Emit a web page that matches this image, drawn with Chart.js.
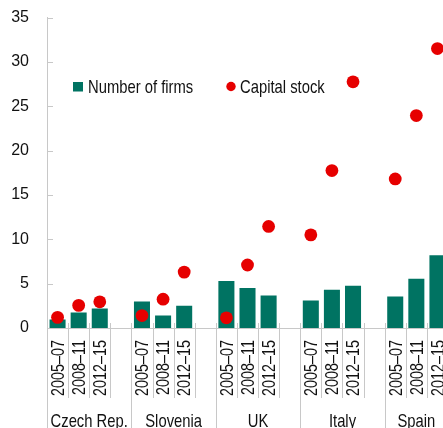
<!DOCTYPE html>
<html>
<head>
<meta charset="utf-8">
<script src="https://cdn.jsdelivr.net/npm/chart.js@4.4.0/dist/chart.umd.min.js"></script>
<style>
  html, body { margin: 0; padding: 0; background: #fff; overflow: hidden; }
  #wrap { position: relative; width: 448px; height: 428px; }
  #firms-chart { display: block; }
</style>
</head>
<body>
<div id="wrap"><canvas id="firms-chart" width="448" height="428"></canvas></div>
<script>
// ------------ DATA ------------

const countries = ['Czech Rep.', 'Slovenia', 'UK', 'Italy', 'Spain'];
const periods = ['2005–07', '2008–11', '2012–15'];

// one value per country and period, in the order of countries x periods
const numberOfFirms = [0.95, 1.75, 2.2,   3.0, 1.4, 2.5,   5.3, 4.5, 3.65,   3.1, 4.3, 4.75,   3.55, 5.55, 8.2];
const capitalStock  = [1.2, 2.55, 2.95,   1.4, 3.25, 6.3,   1.15, 7.1, 11.45,  10.5, 17.75, 27.75, 16.8, 23.95, 31.5];

const yTicks = [0, 5, 10, 15, 20, 25, 30, 35];

// Liberation Sans squeezed horizontally stands in for a narrow face
const FONT = "'Liberation Sans', Arial, sans-serif";
const NARROW = 0.8;
const TEAL = '#007362';
const RED = '#e60000';
const INK = '#111111';
const LINE_GREY = '#c8c8c8';

// ------------ BUILD SLOTS (3 periods per country, empty slot between countries) ------------

var labels = [];
var firmsData = [];
var capitalData = [];
var groupStarts = [];

countries.forEach(function(country, c) {
    groupStarts.push(labels.length);
    periods.forEach(function(p, i) {
        labels.push(p);
        firmsData.push(numberOfFirms[c * periods.length + i]);
        capitalData.push(capitalStock[c * periods.length + i]);
    });
    if (c < countries.length - 1) {
        labels.push('');
        firmsData.push(null);
        capitalData.push(null);
    }
});

// draws text squeezed along its own direction
function narrowText(ctx, text, x, y, size, align, angle) {
    ctx.save();
    ctx.translate(x, y);
    if (angle) ctx.rotate(angle);
    ctx.scale(NARROW, 1);
    ctx.font = size + 'px ' + FONT;
    ctx.textAlign = align;
    ctx.textBaseline = 'alphabetic';
    ctx.fillText(text, 0, 0);
    ctx.restore();
}

// ------------ PLUGINS ------------

// separators under the x axis, rotated period labels, inner y ticks, country names
const axisDecor = {
    id: 'axisDecor',
    afterDraw(chart) {
        const ctx = chart.ctx;
        const x = chart.scales.x;
        const y = chart.scales.y;
        const area = chart.chartArea;
        const half = (x.getPixelForValue(1) - x.getPixelForValue(0)) / 2;
        const H = chart.height;

        ctx.save();
        ctx.strokeStyle = LINE_GREY;
        ctx.lineWidth = 1;

        for (var i = 0; i < labels.length; i++) {
            var px = Math.round(x.getPixelForValue(i) - half) + 0.5;
            var isLong = groupStarts.indexOf(i) !== -1;
            ctx.beginPath();
            ctx.moveTo(px, area.bottom - 5);
            ctx.lineTo(px, isLong ? H : area.bottom + 70);
            ctx.stroke();
        }

        yTicks.forEach(function(v) {
            var py = Math.round(y.getPixelForValue(v)) + 0.5;
            ctx.beginPath();
            ctx.moveTo(area.left, py);
            ctx.lineTo(area.left + 6, py);
            ctx.stroke();
        });

        ctx.fillStyle = INK;

        // period labels, reading bottom to top, ending just under the axis
        labels.forEach(function(lab, i) {
            if (!lab) return;
            var cx = x.getPixelForValue(i) + 6.3;
            narrowText(ctx, lab, cx, area.bottom + 12, 18, 'right', -Math.PI / 2);
        });

        // country names centred between the long separators
        groupStarts.forEach(function(start, c) {
            var left = x.getPixelForValue(start) - half;
            var end = c < groupStarts.length - 1 ? groupStarts[c + 1] : labels.length;
            var right = x.getPixelForValue(end - 1) + half;
            narrowText(ctx, countries[c], (left + right) / 2, H - 1, 18.5, 'center');
        });
        ctx.restore();
    }
};

// legend drawn inside the plot area
const innerLegend = {
    id: 'innerLegend',
    afterDraw(chart) {
        const ctx = chart.ctx;
        const base = 92.5;
        ctx.save();

        ctx.fillStyle = TEAL;
        ctx.fillRect(73, 82, 10, 9.5);
        ctx.fillStyle = INK;
        narrowText(ctx, 'Number of firms', 88, base, 18.5, 'left');

        ctx.fillStyle = RED;
        ctx.beginPath();
        ctx.arc(231, 86.5, 4.7, 0, Math.PI * 2);
        ctx.fill();
        ctx.fillStyle = INK;
        narrowText(ctx, 'Capital stock', 240, base, 18.5, 'left');
        ctx.restore();
    }
};

// ------------ CHART ------------

const data = {
    labels: labels,
    datasets: [{
        type: 'line',
        label: 'Capital stock',
        data: capitalData,
        showLine: false,
        pointRadius: 6.4,
        pointHoverRadius: 6.4,
        pointBackgroundColor: RED,
        pointBorderWidth: 0,
        clip: false,
        order: 0
    }, {
        type: 'bar',
        label: 'Number of firms',
        data: firmsData,
        backgroundColor: TEAL,
        barPercentage: 0.76,
        categoryPercentage: 1.0,
        order: 1
    }]
};

const config = {
    type: 'bar',
    data: data,
    options: {
        responsive: false,
        animation: false,
        layout: {
            autoPadding: false,
            padding: { top: 17.5, left: 0, right: 0, bottom: 0 }
        },
        plugins: {
            legend: { display: false },
            tooltip: { enabled: false }
        },
        scales: {
            x: {
                offset: true,
                grid: { display: false, drawTicks: false },
                border: { display: true, color: LINE_GREY, width: 1 },
                ticks: { display: false, autoSkip: false },
                afterFit: function(scale) {
                    scale.height = 100;
                    scale.paddingLeft = 0;
                    scale.paddingRight = 0;
                }
            },
            y: {
                min: 0,
                max: 35,
                afterBuildTicks: function(scale) {
                    scale.ticks = yTicks.map(function(v) { return { value: v }; });
                },
                grid: { display: false, drawTicks: false },
                border: { display: true, color: LINE_GREY, width: 1 },
                ticks: {
                    padding: 18,
                    color: INK,
                    font: { family: FONT, size: 16 }
                },
                afterFit: function(scale) {
                    scale.width = 47;
                    scale.paddingTop = 0;
                    scale.paddingBottom = 0;
                }
            }
        }
    },
    plugins: [axisDecor, innerLegend]
};

var ctx = document.getElementById('firms-chart').getContext('2d');
const firmsChart = new Chart(ctx, config);
</script>
</body>
</html>
